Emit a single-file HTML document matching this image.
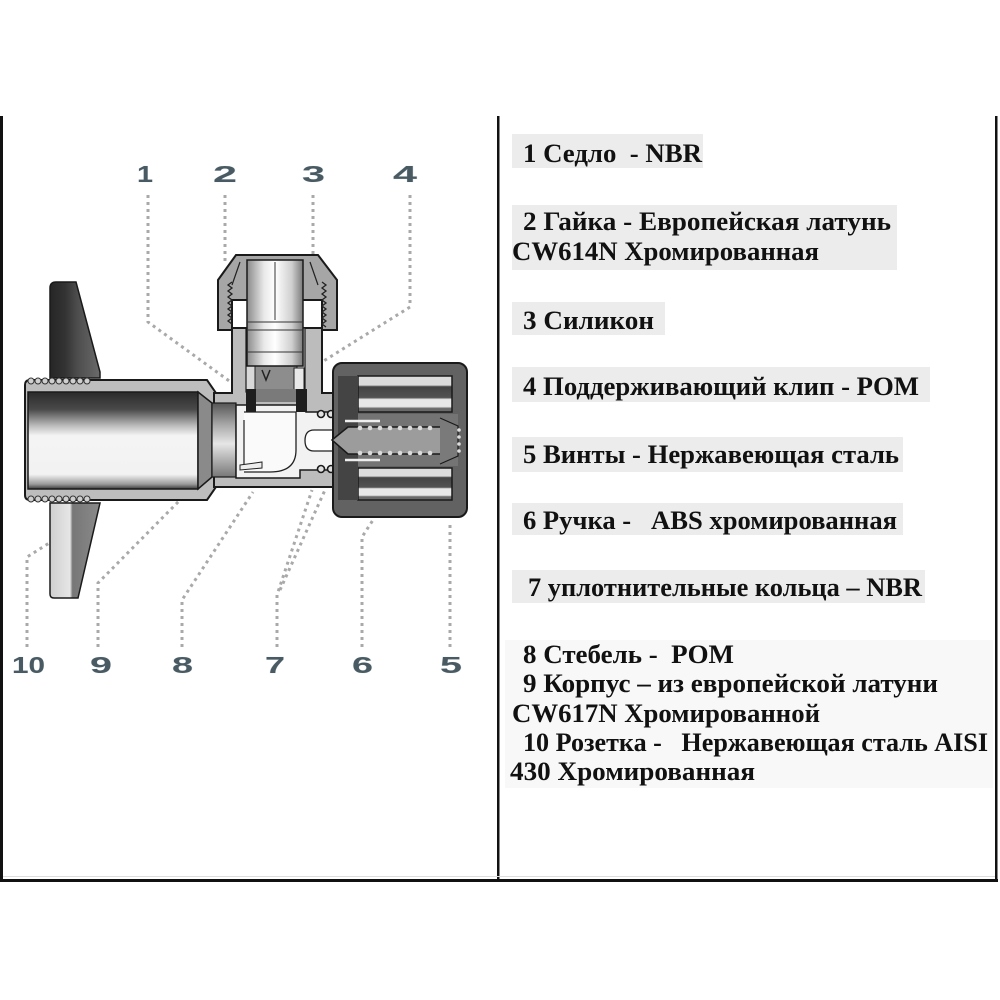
<!DOCTYPE html>
<html>
<head>
<meta charset="utf-8">
<style>
  html,body{margin:0;padding:0;background:#fff;}
  svg{display:block;}
  .t{font-family:"Liberation Serif","DejaVu Serif",serif;font-weight:bold;font-size:26px;fill:#111;white-space:pre;}
  .n{font-family:"Liberation Sans","DejaVu Sans",sans-serif;font-weight:bold;font-size:23px;fill:#4a5a62;stroke:#e4edf0;stroke-width:0.6;paint-order:stroke;}
</style>
</head>
<body>
<svg width="1000" height="1000" viewBox="0 0 1000 1000" xmlns="http://www.w3.org/2000/svg" xml:space="preserve">
  <defs>
    <linearGradient id="bore" x1="0" y1="0" x2="0" y2="1">
      <stop offset="0" stop-color="#2a2a2a"/>
      <stop offset="0.18" stop-color="#4a4a4a"/>
      <stop offset="0.35" stop-color="#bdbdbd"/>
      <stop offset="0.45" stop-color="#f4f4f4"/>
      <stop offset="0.85" stop-color="#f2f2f2"/>
      <stop offset="0.95" stop-color="#9a9a9a"/>
      <stop offset="1" stop-color="#3a3a3a"/>
    </linearGradient>
    <linearGradient id="bore2" x1="0" y1="0" x2="0" y2="1">
      <stop offset="0" stop-color="#555"/>
      <stop offset="0.3" stop-color="#aaa"/>
      <stop offset="0.55" stop-color="#e6e6e6"/>
      <stop offset="1" stop-color="#777"/>
    </linearGradient>
    <linearGradient id="escU" x1="0" y1="0" x2="1" y2="0">
      <stop offset="0" stop-color="#262626"/>
      <stop offset="0.3" stop-color="#333"/>
      <stop offset="0.55" stop-color="#4d4d4d"/>
      <stop offset="1" stop-color="#6a6a6a"/>
    </linearGradient>
    <linearGradient id="escL" x1="0" y1="0" x2="1" y2="0">
      <stop offset="0" stop-color="#cfcfcf"/>
      <stop offset="0.4" stop-color="#e6e6e6"/>
      <stop offset="0.45" stop-color="#777"/>
      <stop offset="1" stop-color="#8a8a8a"/>
    </linearGradient>
    <linearGradient id="ins" x1="0" y1="0" x2="1" y2="0">
      <stop offset="0" stop-color="#8a8a8a"/>
      <stop offset="0.3" stop-color="#e8e8e8"/>
      <stop offset="0.5" stop-color="#ffffff"/>
      <stop offset="0.8" stop-color="#cfcfcf"/>
      <stop offset="1" stop-color="#7a7a7a"/>
    </linearGradient>
    <linearGradient id="cav" x1="0" y1="0" x2="0" y2="1">
      <stop offset="0" stop-color="#dcdcdc"/>
      <stop offset="0.25" stop-color="#dcdcdc"/>
      <stop offset="0.3" stop-color="#444"/>
      <stop offset="0.6" stop-color="#525252"/>
      <stop offset="0.65" stop-color="#e8e8e8"/>
      <stop offset="0.85" stop-color="#e8e8e8"/>
      <stop offset="0.9" stop-color="#6a6a6a"/>
      <stop offset="1" stop-color="#6a6a6a"/>
    </linearGradient>
  </defs>

  <!-- frame -->
  <rect x="0" y="116" width="3" height="766" fill="#111"/>
  <rect x="497" y="116" width="2.5" height="766" fill="#111"/>
  <rect x="995" y="116" width="2.5" height="766" fill="#111"/>
  <rect x="0" y="879" width="998" height="3" fill="#111"/>
  <rect x="3" y="876" width="992" height="1" fill="#ddd"/>

  <!-- text highlights -->
  <g fill="#ececec">
    <rect x="512" y="134" width="191" height="34"/>
    <rect x="512" y="205" width="385" height="65"/>
    <rect x="512" y="302" width="153" height="33"/>
    <rect x="512" y="367" width="418" height="35"/>
    <rect x="512" y="437" width="391" height="35"/>
    <rect x="512" y="503" width="391" height="32"/>
    <rect x="512" y="570" width="413" height="33"/>
  </g>
  <rect x="505" y="640" width="488" height="148" fill="#f8f8f8"/>

  <!-- right column text -->
  <text class="t" x="523" y="162" textLength="179" lengthAdjust="spacingAndGlyphs">1 Седло  - NBR</text>
  <text class="t" x="523" y="230" textLength="368" lengthAdjust="spacingAndGlyphs">2 Гайка - Европейская латунь</text>
  <text class="t" x="512" y="260" textLength="307" lengthAdjust="spacingAndGlyphs">CW614N Хромированная</text>
  <text class="t" x="523" y="329" textLength="131" lengthAdjust="spacingAndGlyphs">3 Силикон</text>
  <text class="t" x="523" y="395" textLength="396" lengthAdjust="spacingAndGlyphs">4 Поддерживающий клип - POM</text>
  <text class="t" x="523" y="463" textLength="376" lengthAdjust="spacingAndGlyphs">5 Винты - Нержавеющая сталь</text>
  <text class="t" x="523" y="529" textLength="374" lengthAdjust="spacingAndGlyphs">6 Ручка -   ABS хромированная</text>
  <text class="t" x="528" y="596" textLength="394" lengthAdjust="spacingAndGlyphs">7 уплотнительные кольца – NBR</text>
  <text class="t" x="523" y="663" textLength="211" lengthAdjust="spacingAndGlyphs">8 Стебель -  POM</text>
  <text class="t" x="523" y="692" textLength="415" lengthAdjust="spacingAndGlyphs">9 Корпус – из европейской латуни</text>
  <text class="t" x="512" y="722" textLength="308" lengthAdjust="spacingAndGlyphs">CW617N Хромированной</text>
  <text class="t" x="523" y="751" textLength="465" lengthAdjust="spacingAndGlyphs">10 Розетка -   Нержавеющая сталь AISI</text>
  <text class="t" x="510" y="780" textLength="245" lengthAdjust="spacingAndGlyphs">430 Хромированная</text>

  <!-- number labels -->
  <text class="n" x="137" y="182" textLength="16" lengthAdjust="spacingAndGlyphs">1</text>
  <text class="n" x="213" y="182" textLength="24" lengthAdjust="spacingAndGlyphs">2</text>
  <text class="n" x="302" y="182" textLength="23" lengthAdjust="spacingAndGlyphs">3</text>
  <text class="n" x="393" y="182" textLength="24" lengthAdjust="spacingAndGlyphs">4</text>
  <text class="n" x="12" y="673" textLength="33" lengthAdjust="spacingAndGlyphs">10</text>
  <text class="n" x="90" y="673" textLength="22" lengthAdjust="spacingAndGlyphs">9</text>
  <text class="n" x="172" y="673" textLength="21" lengthAdjust="spacingAndGlyphs">8</text>
  <text class="n" x="265" y="673" textLength="20" lengthAdjust="spacingAndGlyphs">7</text>
  <text class="n" x="352" y="673" textLength="21" lengthAdjust="spacingAndGlyphs">6</text>
  <text class="n" x="440" y="673" textLength="22" lengthAdjust="spacingAndGlyphs">5</text>

  <!-- dotted leaders -->
  <g fill="none" stroke="#a9a9a9" stroke-width="3" stroke-dasharray="3 4">
    <path d="M148,195 L148,322 L232,383"/>
    <path d="M225,195 L225,262"/>
    <path d="M313,195 L313,290"/>
    <path d="M410,195 L410,307 L322,362"/>
    <path d="M27,647 L27,557 L62,535"/>
    <path d="M98,647 L98,583 L180,500"/>
    <path d="M182,647 L182,600 L253,492"/>
    <path d="M277,647 L277,595 L312,490"/>
    <path d="M280,590 L325,490"/>
    <path d="M362,647 L362,537 L373,520"/>
    <path d="M450,647 L450,523"/>
  </g>

  <!-- escutcheon -->
  <path d="M50,288 Q50,282 56,282 L76,282 L100,372 L100,378 L50,378 Z" fill="url(#escU)" stroke="#1a1a1a" stroke-width="1.5"/>
  <path d="M50,503 L100,503 L78,598 L54,598 Q50,598 50,594 Z" fill="url(#escL)" stroke="#1a1a1a" stroke-width="1.5"/>

  <!-- tailpiece pipe -->
  <path d="M30,380 L207,380 L216,393 L216,487 L207,500 L30,500 Q25,500 25,495 L25,385 Q25,380 30,380 Z" fill="#bdbdbd" stroke="#1a1a1a" stroke-width="2"/>
  <g fill="#d0d0d0" stroke="#333" stroke-width="1">
    <circle cx="31" cy="381" r="3"/><circle cx="38" cy="381" r="3"/><circle cx="45" cy="381" r="3"/><circle cx="52" cy="381" r="3"/><circle cx="59" cy="381" r="3"/><circle cx="66" cy="381" r="3"/><circle cx="73" cy="381" r="3"/><circle cx="80" cy="381" r="3"/><circle cx="87" cy="381" r="3"/>
    <circle cx="31" cy="499" r="3"/><circle cx="38" cy="499" r="3"/><circle cx="45" cy="499" r="3"/><circle cx="52" cy="499" r="3"/><circle cx="59" cy="499" r="3"/><circle cx="66" cy="499" r="3"/><circle cx="73" cy="499" r="3"/><circle cx="80" cy="499" r="3"/><circle cx="87" cy="499" r="3"/>
  </g>
  <rect x="28" y="392" width="170" height="97" fill="url(#bore)" stroke="#1a1a1a" stroke-width="1.5"/>
  <path d="M198,392 L212,403 L212,477 L198,489 Z" fill="#8a8a8a" stroke="#1a1a1a" stroke-width="1.5"/>

  <!-- body horizontal -->
  <path d="M214,393 L232,393 L232,328 L322,328 L322,393 L360,393 L360,487 L214,487 Z" fill="#bcbcbc" stroke="#1a1a1a" stroke-width="2"/>
  <rect x="212" y="403" width="24" height="74" fill="url(#bore2)" stroke="#1a1a1a" stroke-width="1.2"/>
  <!-- inner cavity -->
  <path d="M236,405 L306,405 L306,412 L350,412 L350,470 L300,470 L300,478 L236,478 Z" fill="#f2f2f2" stroke="#1a1a1a" stroke-width="1.5"/>
  <!-- elbow stem -->
  <path d="M244,412 L296,412 L296,450 Q296,472 270,472 L244,472" fill="#fafafa" stroke="#222" stroke-width="1.3"/>
  <path d="M244,420 L244,468" stroke="#222" stroke-width="1.2"/>
  <path d="M240,465 L262,462 L262,468 L240,470 Z" fill="#eee" stroke="#222" stroke-width="1"/>
  <!-- springs / o-rings -->
  <g fill="#e0e0e0" stroke="#1a1a1a" stroke-width="1.6">
    <circle cx="321" cy="414" r="3.5"/><circle cx="331" cy="414" r="3.5"/><circle cx="341" cy="414" r="3.5"/>
    <circle cx="321" cy="469" r="3.5"/><circle cx="331" cy="469" r="3.5"/><circle cx="341" cy="469" r="3.5"/>
  </g>
  <!-- spindle channel -->
  <path d="M314,430 L350,430 L350,451 L314,451 Q305,451 305,440.5 Q305,430 314,430 Z" fill="#fff" stroke="#222" stroke-width="1.3"/>

  <!-- riser interior -->
  <rect x="246" y="328" width="59" height="64" fill="#d8d8d8" stroke="#1a1a1a" stroke-width="1.2"/>
  <rect x="255" y="366" width="42" height="24" fill="#8d8d8d" stroke="#222" stroke-width="1"/>
  <path d="M262,370 L266,380 L270,370" fill="none" stroke="#222" stroke-width="1.5"/>
  <rect x="294" y="368" width="10" height="22" fill="#e8e8e8" stroke="#222" stroke-width="1"/>
  <!-- seat (black) -->
  <path d="M246,389 L307,389 L307,412 L296,412 L296,402 L256,402 L256,412 L246,412 Z" fill="#1e1e1e"/>
  <rect x="256" y="389" width="40" height="13" fill="#7a7a7a"/>

  <!-- nut -->
  <path d="M236,255 L318,255 L337,280 L337,330 L322,330 L322,300 L232,300 L232,330 L218,330 L218,280 Z" fill="#a6a6a6" stroke="#1a1a1a" stroke-width="2"/>
  <rect x="247" y="260" width="56" height="106" fill="url(#ins)" stroke="#1a1a1a" stroke-width="1.5"/>
  <path d="M247,322 L303,322 M247,330 L303,330 M247,352 L303,352 M275,262 L275,320" stroke="#333" stroke-width="1" fill="none"/>
  <g fill="none" stroke="#222" stroke-width="1.3">
    <path d="M232,282 l-4,3 l4,3 l-4,3 l4,3 l-4,3 l4,3 l-4,3 l4,3 l-4,3 l4,3 l-4,3 l4,3 l-4,3 l4,3"/>
    <path d="M322,282 l4,3 l-4,3 l4,3 l-4,3 l4,3 l-4,3 l4,3 l-4,3 l4,3 l-4,3 l4,3 l-4,3 l4,3 l-4,3 l4,3"/>
  </g>
  <path d="M240,262 L232,285 M310,262 L318,285" stroke="#222" stroke-width="1.2"/>

  <!-- handle -->
  <rect x="333" y="363" width="134" height="154" rx="9" ry="9" fill="#626262" stroke="#1a1a1a" stroke-width="2"/>
  <rect x="358" y="376" width="94" height="36" fill="url(#cav)" stroke="#1a1a1a" stroke-width="1.5"/>
  <rect x="358" y="468" width="94" height="32" fill="url(#cav)" stroke="#1a1a1a" stroke-width="1.5"/>
  <rect x="345" y="414" width="113" height="52" fill="#747474"/>
  <rect x="338" y="376" width="20" height="124" fill="#444"/>
  <!-- screw -->
  <path d="M332,440 L348,427 L455,427 L455,454 L348,454 Z" fill="#9c9c9c" stroke="#1a1a1a" stroke-width="1.5"/>
  <g fill="#dcdcdc">
    <circle cx="360" cy="428" r="2.3"/><circle cx="370" cy="428" r="2.3"/><circle cx="380" cy="428" r="2.3"/><circle cx="390" cy="428" r="2.3"/><circle cx="400" cy="428" r="2.3"/><circle cx="410" cy="428" r="2.3"/><circle cx="420" cy="428" r="2.3"/><circle cx="430" cy="428" r="2.3"/>
    <circle cx="360" cy="453" r="2.3"/><circle cx="370" cy="453" r="2.3"/><circle cx="380" cy="453" r="2.3"/><circle cx="390" cy="453" r="2.3"/><circle cx="400" cy="453" r="2.3"/><circle cx="410" cy="453" r="2.3"/><circle cx="420" cy="453" r="2.3"/><circle cx="430" cy="453" r="2.3"/>
  </g>
  <path d="M345,421 L380,421 M345,460 L380,460" stroke="#eee" stroke-width="2.5"/>
  <path d="M440,418 L458,426 L458,456 L440,464" fill="#7a7a7a" stroke="#1a1a1a" stroke-width="1.2"/>
  <g fill="#ddd"><circle cx="459" cy="430" r="1.8"/><circle cx="459" cy="437" r="1.8"/><circle cx="459" cy="444" r="1.8"/><circle cx="459" cy="451" r="1.8"/></g>
</svg>
</body>
</html>
